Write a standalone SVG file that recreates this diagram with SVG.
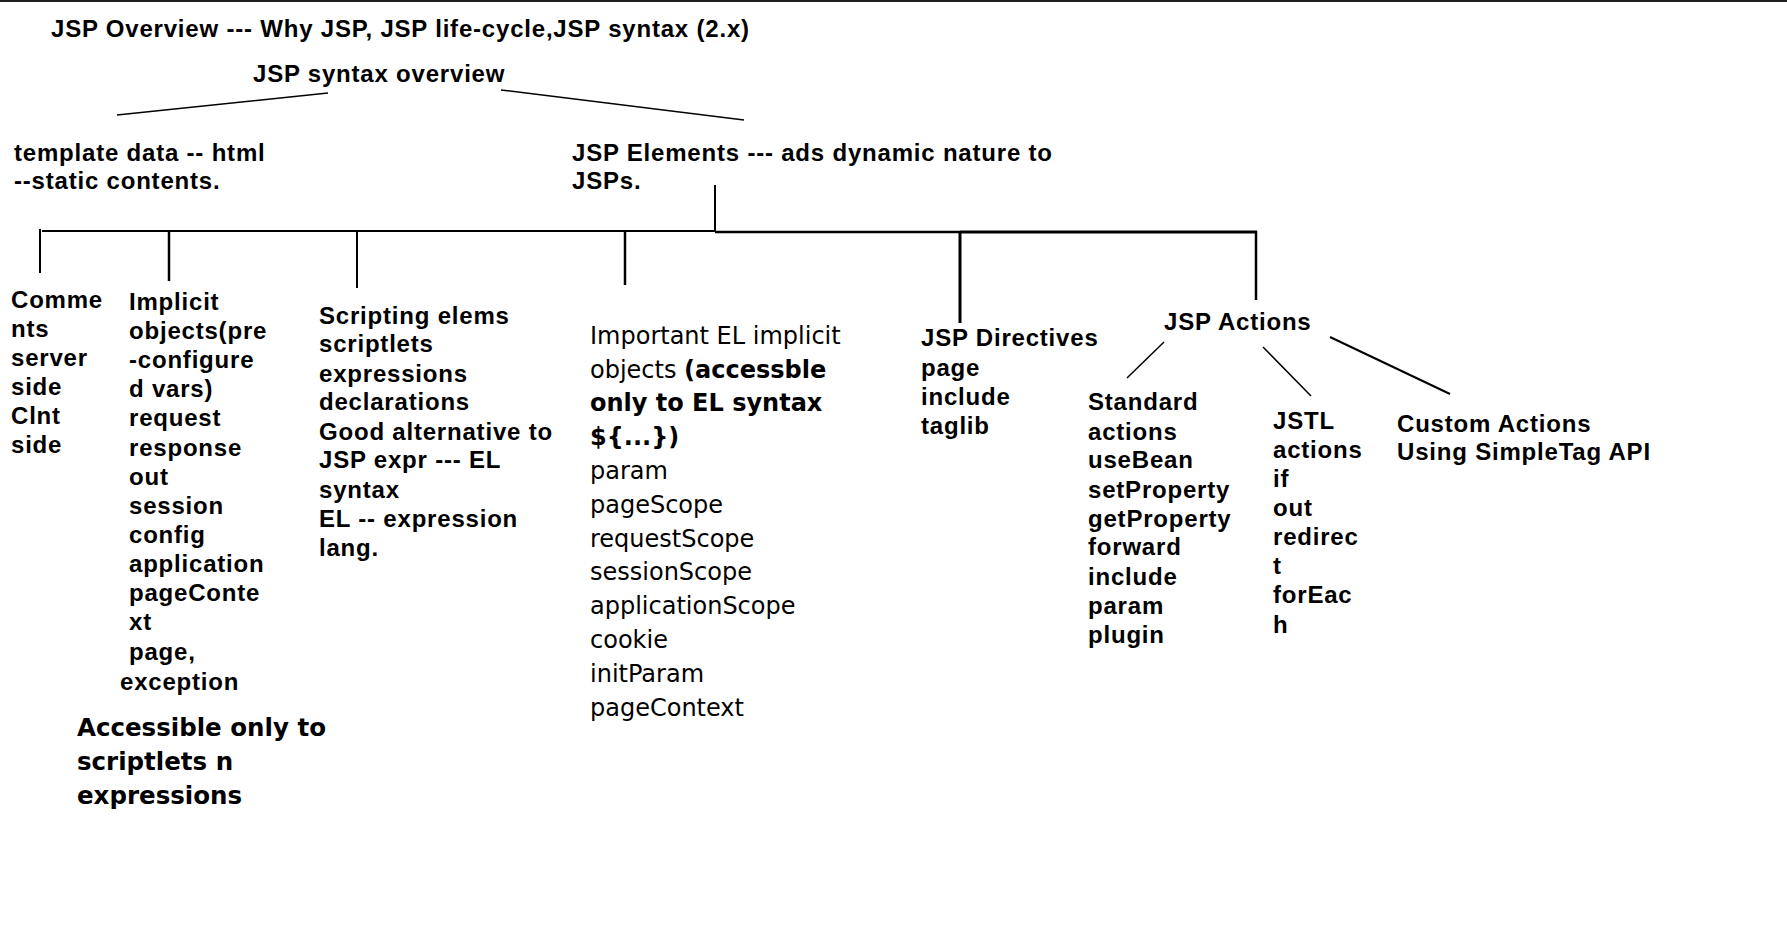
<svg xmlns="http://www.w3.org/2000/svg" width="1787" height="952" viewBox="0 0 1787 952">
<style>
.a{font-family:"Liberation Sans",Arial,sans-serif;font-weight:bold;font-size:24px;letter-spacing:0.8px;fill:#000}
.t{font-family:"DejaVu Sans",Verdana,sans-serif;font-size:24px;fill:#000}
.tb{font-family:"DejaVu Sans",Verdana,sans-serif;font-weight:bold;font-size:24.5px;fill:#000}
.b{font-weight:bold}
.ln{stroke:#000;fill:none;stroke-linecap:butt}
</style>
<rect x="0" y="0" width="1787" height="952" fill="#fff"/>
<rect x="0" y="0" width="1787" height="2" fill="#1e1e1e"/>

<g id="title"><text class="a" x="51" y="37">JSP Overview --- Why JSP, JSP life-cycle,JSP syntax (2.x)</text></g>
<g id="syntax-overview"><text class="a" x="253" y="82">JSP syntax overview</text></g>
<g id="template-data"><text class="a"><tspan x="14" y="161">template data -- html</tspan><tspan x="14" y="189">--static contents.</tspan></text></g>
<g id="jsp-elements"><text class="a"><tspan x="572" y="161">JSP Elements --- ads dynamic nature to</tspan><tspan x="572" y="189">JSPs.</tspan></text></g>

<g id="comments"><text class="a">
<tspan x="11" y="308">Comme</tspan><tspan x="11" y="337">nts</tspan><tspan x="11" y="366">server</tspan><tspan x="11" y="395">side</tspan><tspan x="11" y="424">Clnt</tspan><tspan x="11" y="453">side</tspan>
</text></g>

<g id="implicit-objects"><text class="a">
<tspan x="129" y="310">Implicit</tspan><tspan x="129" y="339">objects(pre</tspan><tspan x="129" y="368">-configure</tspan><tspan x="129" y="397">d vars)</tspan><tspan x="129" y="426">request</tspan><tspan x="129" y="456">response</tspan><tspan x="129" y="485">out</tspan><tspan x="129" y="514">session</tspan><tspan x="129" y="543">config</tspan><tspan x="129" y="572">application</tspan><tspan x="129" y="601">pageConte</tspan><tspan x="129" y="630">xt</tspan><tspan x="129" y="660">page,</tspan><tspan x="120" y="690">exception</tspan>
</text></g>

<g id="accessible-note"><text class="tb">
<tspan x="77" y="736">Accessible only to</tspan><tspan x="77" y="770">scriptlets n</tspan><tspan x="77" y="804">expressions</tspan>
</text></g>

<g id="scripting"><text class="a">
<tspan x="319" y="324">Scripting elems</tspan><tspan x="319" y="352">scriptlets</tspan><tspan x="319" y="382">expressions</tspan><tspan x="319" y="410">declarations</tspan><tspan x="319" y="440">Good alternative to</tspan><tspan x="319" y="468">JSP expr --- EL</tspan><tspan x="319" y="498">syntax</tspan><tspan x="319" y="527">EL -- expression</tspan><tspan x="319" y="556">lang.</tspan>
</text></g>

<g id="el-implicit"><text class="t">
<tspan x="590" y="344">Important EL implicit</tspan>
<tspan x="590" y="378">objects <tspan class="b">(accessble</tspan></tspan>
<tspan x="590" y="411" class="b">only to EL syntax</tspan>
<tspan x="590" y="445" class="b">${...})</tspan>
<tspan x="590" y="479">param</tspan><tspan x="590" y="513">pageScope</tspan><tspan x="590" y="547">requestScope</tspan><tspan x="590" y="580">sessionScope</tspan><tspan x="590" y="614">applicationScope</tspan><tspan x="590" y="648">cookie</tspan><tspan x="590" y="682">initParam</tspan><tspan x="590" y="716">pageContext</tspan>
</text></g>

<g id="directives"><text class="a">
<tspan x="921" y="346">JSP Directives</tspan><tspan x="921" y="376">page</tspan><tspan x="921" y="405">include</tspan><tspan x="921" y="434">taglib</tspan>
</text></g>

<g id="actions"><text class="a" x="1164" y="330">JSP Actions</text></g>

<g id="standard-actions"><text class="a">
<tspan x="1088" y="410">Standard</tspan><tspan x="1088" y="440">actions</tspan><tspan x="1088" y="468">useBean</tspan><tspan x="1088" y="498">setProperty</tspan><tspan x="1088" y="527">getProperty</tspan><tspan x="1088" y="555">forward</tspan><tspan x="1088" y="585">include</tspan><tspan x="1088" y="614">param</tspan><tspan x="1088" y="643">plugin</tspan>
</text></g>

<g id="jstl-actions"><text class="a">
<tspan x="1273" y="429">JSTL</tspan><tspan x="1273" y="458">actions</tspan><tspan x="1273" y="487">if</tspan><tspan x="1273" y="516">out</tspan><tspan x="1273" y="545">redirec</tspan><tspan x="1273" y="574">t</tspan><tspan x="1273" y="603">forEac</tspan><tspan x="1273" y="633">h</tspan>
</text></g>

<g id="custom-actions"><text class="a">
<tspan x="1397" y="432">Custom Actions</tspan><tspan x="1397" y="460">Using SimpleTag API</tspan>
</text></g>

<g id="connectors" class="ln">
<line x1="328" y1="93" x2="117" y2="115" stroke-width="1.5"/>
<line x1="501" y1="90" x2="744" y2="120" stroke-width="1.5"/>
<line x1="715" y1="185" x2="715" y2="232" stroke-width="2"/>
<line x1="42" y1="231" x2="715" y2="231" stroke-width="2"/>
<line x1="715" y1="232" x2="960" y2="232" stroke-width="2.5"/>
<line x1="960" y1="232" x2="1257" y2="232" stroke-width="3"/>
<line x1="40" y1="229" x2="40" y2="273" stroke-width="2"/>
<line x1="169" y1="231" x2="169" y2="281" stroke-width="2.5"/>
<line x1="357" y1="231" x2="357" y2="288" stroke-width="2"/>
<line x1="625" y1="231" x2="625" y2="285" stroke-width="2.5"/>
<line x1="960" y1="231" x2="960" y2="323" stroke-width="3"/>
<line x1="1256" y1="231" x2="1256" y2="300" stroke-width="2.5"/>
<line x1="1164" y1="342" x2="1127" y2="378" stroke-width="1.5"/>
<line x1="1263" y1="347" x2="1311" y2="396" stroke-width="1.5"/>
<line x1="1330" y1="337" x2="1450" y2="394" stroke-width="2"/>
</g>
</svg>
